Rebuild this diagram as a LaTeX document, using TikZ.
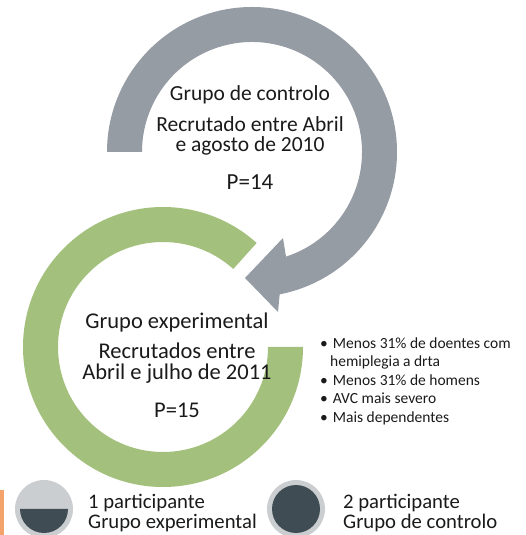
\documentclass[tikz,border=0pt]{standalone}
\usepackage{fontspec}
\setmainfont{Carlito}
\usetikzlibrary{calc}
\definecolor{ctrlgray}{HTML}{959CA4}
\definecolor{expgreen}{HTML}{A3C17C}
\definecolor{legendlight}{HTML}{CBCED0}
\definecolor{legenddark}{HTML}{404C54}
\definecolor{accentorange}{HTML}{F4A36A}
\definecolor{textblack}{HTML}{1A1A1A}

\begin{document}
\begin{tikzpicture}[
    x=1pt, y=1pt,
    every node/.style={text=textblack, inner sep=0pt},
    ctrltext/.style={
        font=\fontsize{21.5}{20}\selectfont, align=center
    },
    exptext/.style={
        font=\fontsize{22.5}{21.5}\selectfont, align=center
    },
    notetext/.style={
        font=\fontsize{15.5}{18.5}\selectfont, align=left, anchor=west
    },
    legendtext/.style={
        font=\fontsize{20.7}{20}\selectfont, align=left, anchor=west
    },
    legenddot/.style={
        circle, fill=legendlight, minimum size=58pt
    },
]
\useasboundingbox (0,0) rectangle (526,535);

% ===== Ring centres =====
\coordinate (gc) at (252,383);
\coordinate (ec) at (163,188);

% ===== Control group: grey circular arrow =====
\fill[ctrlgray] ($(gc)+(180:145)$) arc[start angle=180, end angle=-79, radius=145]
    -- (278,223) -- (245,257) -- (283,297)
    -- ($(gc)+(-72:110)$) arc[start angle=-72, end angle=180, radius=110] -- cycle;

% ===== Experimental group: green ring =====
\fill[expgreen] ($(ec)+(0:140)$) arc[start angle=0, end angle=-312, radius=140]
    -- ($(ec)+(48:105)$) arc[start angle=48, end angle=360, radius=105] -- cycle;

% ===== Control group text =====
\node[ctrltext] (ctitle) at (250,440) {Grupo de controlo};
\node[ctrltext] (cdates) at (250,399) {Recrutado entre Abril\\e agosto de 2010};
\node[ctrltext, font=\fontsize{23}{24}\selectfont] (ccount) at (250,353) {P=14};

% ===== Experimental group text =====
\node[exptext] (etitle) at (177,212) {Grupo experimental};
\node[exptext] (edates) at (177,172) {Recrutados entre\\Abril e julho de 2011};
\node[exptext] (ecount) at (177,125) {P=15};

% ===== Notes on the experimental group =====
\node[notetext] (notes) at (320,154) {%
    \textbullet\hspace{5pt}Menos 31\% de doentes com\\
    \hspace*{10pt}hemiplegia a drta\\
    \textbullet\hspace{5pt}Menos 31\% de homens\\
    \textbullet\hspace{5pt}AVC mais severo\\
    \textbullet\hspace{5pt}Mais dependentes};

% ===== Legend =====
\fill[accentorange] (0,0) rectangle (4,45);
\node[legenddot] (expdot) at (44,26) {};
\fill[legenddark] ($(expdot)+(-24,0)$) arc[start angle=180, end angle=360, radius=24] -- cycle;
\node[legendtext] (explabel) at (88,22) {1 participante\\Grupo experimental};

\node[legenddot] (ctrldot) at (296,26) {};
\fill[legenddark] (ctrldot) circle[radius=24];
\node[legendtext] (ctrllabel) at (343,22) {2 participante\\Grupo de controlo};

\end{tikzpicture}
\end{document}
